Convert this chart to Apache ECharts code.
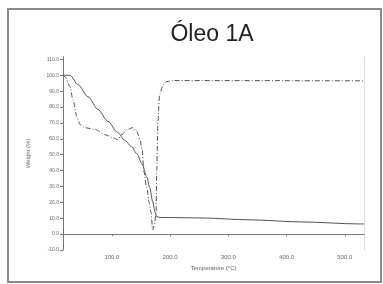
<!DOCTYPE html>
<html>
<head>
<meta charset="utf-8">
<script src="https://cdn.jsdelivr.net/npm/echarts@6/dist/echarts.min.js"></script>
<style>
  html, body { margin: 0; padding: 0; background: #fff; }
  #chart { width: 383px; height: 284px; }
</style>
</head>
<body>
<div id="chart"></div>
<script>
// Óleo 1A (temperatura x valor)
var title = "Óleo 1A";
var xTicks = [100, 200, 300, 400, 500];

// curva contínua (massa)
var massaTemp = [16, 28, 42, 59, 76, 93, 110, 122, 134, 143, 152, 160, 165, 170, 174, 177, 183, 251, 337, 423, 526, 533];
var massaVal  = [100, 100, 94, 86.5, 78.5, 71, 64, 59, 55, 50.5, 44, 36, 29, 20.5, 14, 11, 10.5, 10.2, 9, 7.7, 6.4, 6.4];

// curva traço-ponto
var curvaTemp = [16, 19, 28, 33, 40, 45, 54, 71, 88, 102, 110, 117, 126, 136, 143, 148, 152, 155, 160, 164, 167, 170, 173, 176, 177, 179, 182, 188, 194, 203, 533];
var curvaVal  = [100, 99.3, 93, 84.7, 74, 69, 67, 65.8, 62.6, 60.7, 59.5, 62.6, 65.8, 67, 64.5, 59.5, 53, 39, 29, 20, 14, 2.6, 6, 14, 40, 71, 88, 94, 96, 96.7, 96.5];

function pares(xs, ys) {
  return xs.map(function (x, i) { return [x, ys[i]]; });
}

var myChart = echarts.init(document.getElementById("chart"));
var option = {
  backgroundColor: "#fff",
  animation: false,
  title: {
    text: title,
    left: 207,
    top: 18,
    textAlign: "center",
    textStyle: { fontFamily: "Liberation Sans", fontSize: 23, fontWeight: "normal", color: "#222" }
  },
  graphic: [{
    type: "rect",
    shape: { x: 8, y: 9, width: 373, height: 273 },
    style: { fill: "none", stroke: "#8a8a8a", lineWidth: 2 }
  }],
  grid: { left: 63, right: 19, top: 57, bottom: 34 },
  xAxis: [{
    type: "value",
    min: 16,
    max: 533,
    name: "Temperature (°C)",
    nameLocation: "middle",
    nameGap: 15,
    nameTextStyle: { fontFamily: "Liberation Sans", fontSize: 6, color: "#666" },
    axisLine: { lineStyle: { color: "#777", width: 1 } },
    axisTick: { show: true, customValues: xTicks, length: 2, lineStyle: { color: "#777" } },
    axisLabel: {
      customValues: xTicks,
      fontFamily: "Liberation Sans", fontSize: 6, color: "#666", margin: 4,
      formatter: function (v) { return v.toFixed(1); }
    },
    splitLine: { show: false }
  }, {
    type: "value",
    position: "top",
    min: 16,
    max: 533,
    axisLine: { show: true, lineStyle: { color: "#777", width: 1 } },
    axisTick: { show: false },
    axisLabel: { show: false },
    splitLine: { show: false }
  }],
  yAxis: [{
    type: "value",
    min: -10,
    max: 111.5,
    interval: 10,
    name: "Weight (%)",
    nameLocation: "middle",
    nameGap: 32,
    nameTextStyle: { fontFamily: "Liberation Sans", fontSize: 6, color: "#666" },
    axisLine: { show: true, lineStyle: { color: "#777", width: 1 } },
    axisTick: { show: true, length: 3, lineStyle: { color: "#777" } },
    axisLabel: {
      fontFamily: "Liberation Sans", fontSize: 5, color: "#666", margin: 4,
      showMaxLabel: false,
      formatter: function (v) { return v.toFixed(1); }
    },
    splitLine: { show: false }
  }, {
    type: "value",
    position: "right",
    min: -10,
    max: 111.5,
    axisLine: { show: true, lineStyle: { color: "#ddd", width: 1 } },
    axisTick: { show: false },
    axisLabel: { show: false },
    splitLine: { show: false }
  }],
  series: [{
    type: "line",
    data: pares(massaTemp, massaVal),
    showSymbol: false,
    smooth: 0.3,
    smoothMonotone: "x",
    lineStyle: { color: "#555", width: 1 }
  }, {
    type: "line",
    data: pares(curvaTemp, curvaVal),
    showSymbol: false,
    smooth: 0.3,
    smoothMonotone: "x",
    lineStyle: { color: "#555", width: 1, type: [5, 2, 1, 2] }
  }]
};
myChart.setOption(option);
</script>
</body>
</html>
